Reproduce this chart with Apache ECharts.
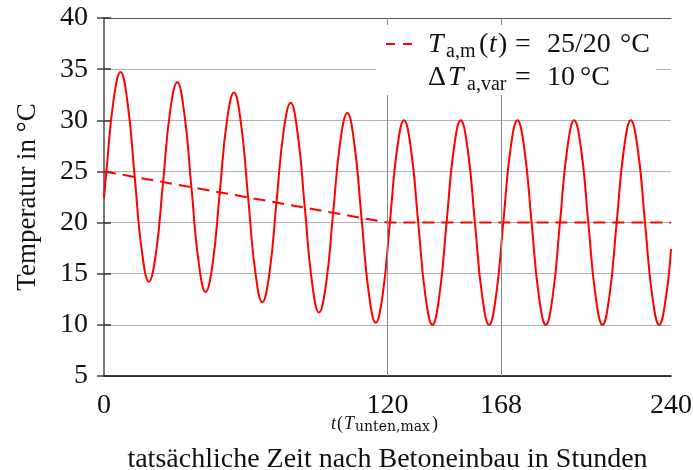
<!DOCTYPE html>
<html>
<head>
<meta charset="utf-8">
<script src="https://cdn.jsdelivr.net/npm/echarts@6/dist/echarts.min.js"></script>
<style>
  html, body { margin: 0; padding: 0; background: #fff; }
  #chart { width: 693px; height: 470px; }
</style>
</head>
<body>
<div id="chart"></div>
<script>
// Air temperature over the first 240 hours after concreting
const hours = [0,
  1, 4, 7, 10, 13, 16, 19, 22, 25, 28, 31, 34, 37, 40, 43, 46, 49, 52, 55, 58,
  61, 64, 67, 70, 73, 76, 79, 82, 85, 88, 91, 94, 97, 100, 103, 106, 109, 112, 115, 118,
  121, 124, 127, 130, 133, 136, 139, 142, 145, 148, 151, 154, 157, 160, 163, 166, 169, 172, 175, 178,
  181, 184, 187, 190, 193, 196, 199, 202, 205, 208, 211, 214, 217, 220, 223, 226, 229, 232, 235, 238,
  240];
const airTemp = [22.41,
  24.96, 31.90, 34.71, 31.65, 24.46, 17.26, 14.21, 17.01,
  23.96, 30.90, 33.71, 30.65, 23.46, 16.26, 13.21, 16.01,
  22.96, 29.90, 32.71, 29.65, 22.46, 15.26, 12.21, 15.01,
  21.96, 28.90, 31.71, 28.65, 21.46, 14.26, 11.21, 14.01,
  20.96, 27.90, 30.71, 27.65, 20.46, 13.26, 10.21, 13.01,
  20.00, 27.07, 30.00, 27.07, 20.00, 12.93, 10.00, 12.93,
  20.00, 27.07, 30.00, 27.07, 20.00, 12.93, 10.00, 12.93,
  20.00, 27.07, 30.00, 27.07, 20.00, 12.93, 10.00, 12.93,
  20.00, 27.07, 30.00, 27.07, 20.00, 12.93, 10.00, 12.93,
  20.00, 27.07, 30.00, 27.07, 20.00, 12.93, 10.00, 12.93,
  17.41];

// Daily mean: 25 °C falling to 20 °C at 120 h, then constant
const meanHours = [0, 120, 240];
const meanTemp = [25, 20, 20];

// Marked times on the time axis
const markedHours = [120, 168];
const xLabelValues = [0, 120, 168, 240];

const FONT = '"Liberation Serif", "DejaVu Serif", serif';
const FS = 28;
const INK = '#111';

const chart = echarts.init(document.getElementById('chart'), null, { renderer: 'canvas' });

const curve = hours.map((t, i) => [t, airTemp[i]]);
const meanLine = meanHours.map((t, i) => [t, meanTemp[i]]);

// small helper for positioned text pieces (math-like legend typesetting)
function piece(text, left, top, font) {
  return { type: 'text', z: 11, silent: true, left: left, top: top,
           style: { text: text, font: font, fill: INK } };
}

chart.setOption({
  animation: false,
  backgroundColor: '#fff',
  grid: { left: 104, right: 22, top: 18, bottom: 94, containLabel: false, outerBoundsMode: 'none' },
  xAxis: [{
    type: 'value', min: 0, max: 240, interval: 24, position: 'bottom',
    axisLine: { show: true, lineStyle: { color: '#000', width: 1.5 } },
    axisTick: { show: false },
    splitLine: { show: false },
    axisLabel: {
      margin: 16, color: INK, fontFamily: FONT, fontSize: FS,
      formatter: v => (xLabelValues.indexOf(v) >= 0 ? String(v) : '')
    },
    name: 'tatsächliche Zeit nach Betoneinbau in Stunden',
    nameLocation: 'middle', nameGap: 70,
    nameTextStyle: { color: INK, fontFamily: FONT, fontSize: 28 }
  }, {
    type: 'value', min: 0, max: 240, position: 'top',
    axisLine: { show: true, lineStyle: { color: '#555', width: 1 } },
    axisTick: { show: false }, axisLabel: { show: false }, splitLine: { show: false }
  }],
  yAxis: [{
    type: 'value', min: 5, max: 40, interval: 5, position: 'left',
    axisLine: { show: true, lineStyle: { color: '#000', width: 1.5 } },
    axisTick: { show: true, inside: true, length: 7, lineStyle: { color: '#333', width: 1.5 } },
    splitLine: { show: true, lineStyle: { color: '#b0b0b0', width: 1 } },
    axisLabel: { margin: 16, color: INK, fontFamily: FONT, fontSize: FS },
    name: 'Temperatur in °C',
    nameLocation: 'middle', nameGap: 63, nameRotate: 90,
    nameTextStyle: { color: INK, fontFamily: FONT, fontSize: 27 }
  }, {
    type: 'value', min: 5, max: 40, interval: 5, position: 'right',
    axisLine: { show: true, lineStyle: { color: '#777', width: 2 } },
    axisTick: { show: true, inside: true, length: 7, lineStyle: { color: '#444', width: 1.5 } },
    axisLabel: { show: false }, splitLine: { show: false }
  }],
  series: [{
    type: 'line', name: 'mean', data: meanLine, showSymbol: false, silent: true,
    lineStyle: { color: '#ff0000', width: 2, type: [12, 7] },
    z: 3,
    markLine: {
      silent: true, symbol: 'none', label: { show: false },
      lineStyle: { color: '#888', width: 1, type: 'solid' },
      data: markedHours.map(h => ({ xAxis: h }))
    }
  }, {
    type: 'line', name: 'air', data: curve, showSymbol: false, silent: true,
    smooth: 0.45,
    lineStyle: { color: '#ff0000', width: 2 },
    z: 4
  }],
  graphic: [
    // legend panel covering the grid lines
    { type: 'rect', left: 376, top: 25, z: 10, silent: true,
      shape: { width: 280, height: 70 }, style: { fill: '#fff' } },
    { type: 'line', z: 11, silent: true,
      shape: { x1: 386, y1: 44, x2: 412, y2: 44 },
      style: { stroke: '#ff0000', lineWidth: 2, lineDash: [9, 8] } },
    // T_a,m(t) = 25/20 °C
    piece('T', 428, 31, 'italic 28px ' + FONT),
    piece('a,m', 446, 42, '20px ' + FONT),
    piece('(', 479, 31, '28px ' + FONT),
    piece('t', 489, 31, 'italic 28px ' + FONT),
    piece(')', 498, 31, '28px ' + FONT),
    piece('=', 515, 31, '28px ' + FONT),
    piece('25/20', 547, 31, '28px ' + FONT),
    piece('°C', 620, 31, '28px ' + FONT),
    // ΔT_a,var = 10 °C
    piece('Δ', 428, 64, '28px ' + FONT),
    piece('T', 448, 64, 'italic 28px ' + FONT),
    piece('a,var', 467, 75, '20px ' + FONT),
    piece('=', 515, 64, '28px ' + FONT),
    piece('10', 547, 64, '28px ' + FONT),
    piece('°C', 580, 64, '28px ' + FONT),
    // marker for the time of the maximum bottom temperature
    piece('t', 331, 415, 'italic 18px ' + FONT),
    piece('(', 337, 415, '18px ' + FONT),
    piece('T', 344, 415, 'italic 18px ' + FONT),
    piece('unten,max', 355, 420, '14px "DejaVu Serif", serif'),
    piece(')', 432, 415, '18px ' + FONT)
  ]
});
</script>
</body>
</html>
